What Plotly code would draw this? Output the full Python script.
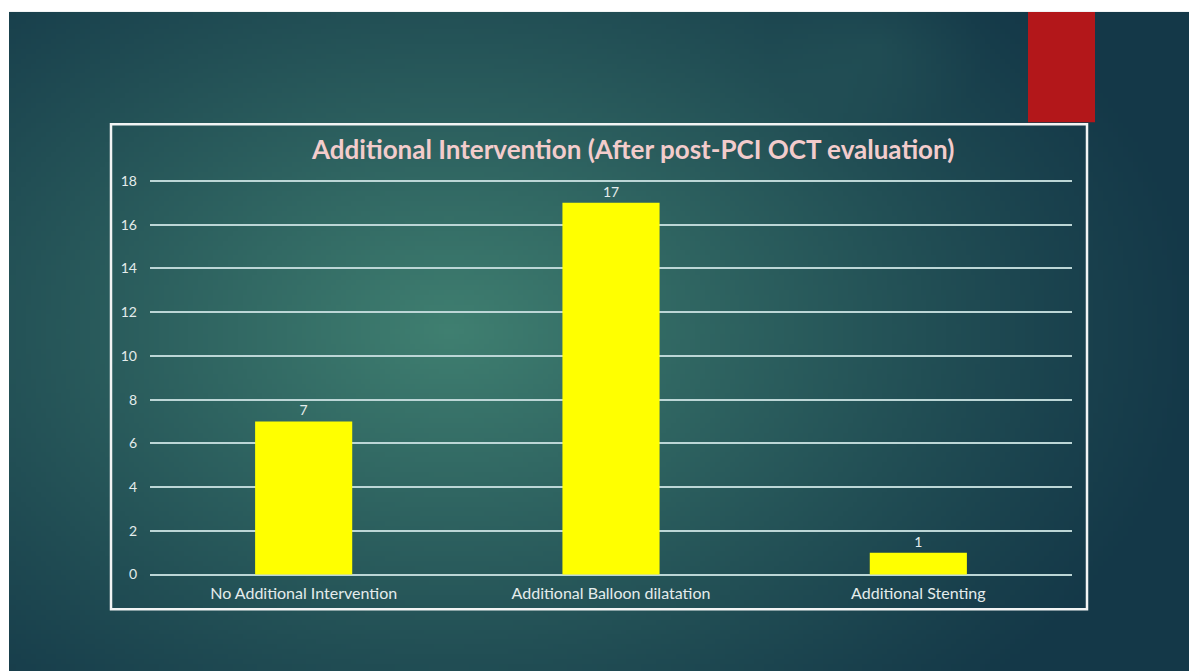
import base64
import struct
import zlib

import plotly.graph_objects as go

# ---- data ----
categories = ["No Additional Intervention", "Additional Balloon dilatation", "Additional Stenting"]
counts = [7, 17, 1]
y_ticks = [0, 2, 4, 6, 8, 10, 12, 14, 16, 18]
title_text = "Additional Intervention (After post-PCI OCT evaluation)"

W, H = 1189, 672


def px_x(x):
    return x / W


def px_y(y):
    return 1 - y / H


def gradient_png(w, h):
    """Build a small PNG of the slide's radial teal background."""
    dark = (20, 56, 72)
    light = (64, 128, 113)
    rows = []
    for j in range(h):
        row = bytearray([0])
        for i in range(w):
            x = 9 + (i + 0.5) / w * (W - 9)
            y = 10 + (j + 0.5) / h * (H - 10)
            dx = (x - 450) / 760
            dy = (y - 330) / 520
            d = (dx * dx + dy * dy) ** 0.5
            t = max(0.0, 1 - d) ** 1.15
            # faint highlight near the top right
            bx = (x - 880) / 110
            by = (y - 45) / 80
            b = max(0.0, 1 - (bx * bx + by * by) ** 0.5) * 0.12
            t = min(1.0, t + b)
            c = [int(dark[k] + (light[k] - dark[k]) * t) for k in range(3)]
            row.extend(c)
        rows.append(bytes(row))
    raw = b"".join(rows)

    def chunk(tag, data):
        c = struct.pack(">I", len(data)) + tag + data
        return c + struct.pack(">I", zlib.crc32(tag + data) & 0xFFFFFFFF)

    png = b"\x89PNG\r\n\x1a\n"
    png += chunk(b"IHDR", struct.pack(">IIBBBBB", w, h, 8, 2, 0, 0, 0))
    png += chunk(b"IDAT", zlib.compress(raw, 9))
    png += chunk(b"IEND", b"")
    return "data:image/png;base64," + base64.b64encode(png).decode()


bg_src = gradient_png(240, 134)

# a little headroom on the value axis so the 0 and 18 grid lines are drawn
pad = 0.3
px_per_unit = (575 - 179) / 18.0

fig = go.Figure(
    go.Bar(
        x=categories,
        y=counts,
        marker=dict(color="#ffff00", line=dict(width=0)),
        text=[str(v) for v in counts],
        textposition="outside",
        textfont=dict(family="Lato, Open Sans, sans-serif", size=14, color="#e4ecec"),
        cliponaxis=False,
        hoverinfo="skip",
    )
)

fig.update_layout(
    autosize=True,
    margin=dict(l=0, r=0, t=0, b=0),
    paper_bgcolor="#ffffff",
    plot_bgcolor="rgba(0,0,0,0)",
    bargap=0.684,
    showlegend=False,
    xaxis=dict(
        domain=[px_x(150), px_x(1072)],
        showgrid=False,
        zeroline=False,
        showline=False,
        ticks="",
        tickfont=dict(family="Lato, Open Sans, sans-serif", size=16, color="#e4ecec"),
        ticklabelstandoff=1,
        fixedrange=True,
    ),
    yaxis=dict(
        domain=[px_y(575 + pad * px_per_unit), px_y(179 - pad * px_per_unit)],
        range=[-pad, 18 + pad],
        tickvals=y_ticks,
        showgrid=True,
        gridcolor="#bcd6d6",
        gridwidth=1.8,
        zeroline=False,
        showline=False,
        ticks="",
        tickfont=dict(family="Lato, Open Sans, sans-serif", size=14, color="#e4ecec"),
        ticklabelstandoff=12,
        fixedrange=True,
    ),
    images=[
        dict(
            source=bg_src,
            xref="paper",
            yref="paper",
            x=px_x(9),
            y=px_y(9),
            sizex=(W - 9) / W,
            sizey=(H - 9) / H,
            xanchor="left",
            yanchor="top",
            sizing="stretch",
            layer="below",
        )
    ],
    shapes=[
        # red accent block
        dict(
            type="rect",
            xref="paper",
            yref="paper",
            x0=px_x(1028),
            x1=px_x(1095),
            y0=px_y(120),
            y1=px_y(9),
            fillcolor="#b3171a",
            line=dict(width=0),
            layer="below",
        ),
        # chart frame
        dict(
            type="rect",
            xref="paper",
            yref="paper",
            x0=px_x(111),
            x1=px_x(1087),
            y0=px_y(610),
            y1=px_y(122),
            fillcolor="rgba(0,0,0,0)",
            line=dict(color="#f2f4f4", width=2.5),
            layer="below",
        ),
    ],
    annotations=[
        dict(
            text="<b>" + title_text + "</b>",
            xref="paper",
            yref="paper",
            x=px_x(632),
            y=px_y(147),
            xanchor="center",
            yanchor="middle",
            showarrow=False,
            font=dict(family="Lato, Open Sans, sans-serif", size=26, color="#f3cccc"),
        )
    ],
)

fig.write_html("out.html")
